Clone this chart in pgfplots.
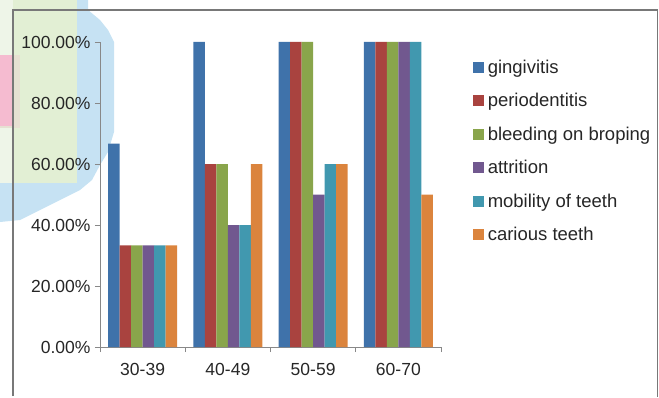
\documentclass[border=0pt]{standalone}
\usepackage{pgfplots}
\pgfplotsset{compat=1.18}
\usepackage{fontspec}
\setmainfont{Liberation Sans}
\definecolor{cA}{HTML}{3F72AA}
\definecolor{cB}{HTML}{A9433F}
\definecolor{cC}{HTML}{89A54B}
\definecolor{cD}{HTML}{71588F}
\definecolor{cE}{HTML}{4198AF}
\definecolor{cF}{HTML}{DB843D}
\definecolor{txt}{HTML}{262626}
\definecolor{axg}{HTML}{888888}
\begin{document}
\begin{tikzpicture}
\useasboundingbox (0pt,0pt) rectangle (659pt,397pt);
% decorative blurred background artifacts (image coords flipped)
\fill[fill={rgb,255:red,198;green,226;blue,243}] (0pt,397pt) -- (88pt,397pt) -- (88pt,387pt) -- (100pt,377pt) -- (108pt,367pt) -- (114pt,355pt) -- (114pt,265pt) -- (108pt,245pt) -- (100pt,232pt) -- (92pt,217pt) -- (80pt,207pt) -- (60pt,197pt) -- (40pt,187pt) -- (20pt,177pt) -- (0pt,175pt) -- cycle;
\fill[fill={rgb,255:red,226;green,239;blue,212}] (0pt,397pt) rectangle (77pt,214pt);
\fill[fill={rgb,255:red,238;green,245;blue,232}] (0pt,397pt) rectangle (13pt,214pt);
\fill[fill={rgb,255:red,230;green,224;blue,210}] (0pt,342pt) rectangle (20pt,269pt);
\fill[fill={rgb,255:red,245;green,187;blue,208}] (0pt,342pt) rectangle (13pt,271pt);
% outer frame
\draw[color={rgb,255:red,120;green,120;blue,120}, line width=1.3pt] (13pt,1pt) -- (13pt,387pt) -- (657.5pt,387pt) -- (657.5pt,0pt);
\begin{axis}[
  at={(100pt,50pt)}, anchor=south west,
  scale only axis, width=341pt, height=305pt,
  xmin=-0.5, xmax=3.5, ymin=0, ymax=100,
  ybar=0pt, bar width=11.5pt,
  axis x line*=bottom, axis y line*=left,
  x axis line style={-}, y axis line style={-},
  axis line style={draw=axg, line width=0.8pt},
  xtick={-0.5,0.5,1.5,2.5,3.5},
  x tick label as interval,
  xticklabels={30-39,40-49,50-59,60-70},
  ytick={0,20,40,60,80,100},
  yticklabel={\pgfmathprintnumber[fixed,fixed zerofill,precision=2]{\tick}\%},
  /pgf/number format/assume math mode=true,
  tick align=outside, major tick length=5pt,
  tick style={draw=axg, line width=0.8pt},
  ticklabel style={font=\fontsize{17.5}{20}\selectfont, text=txt},
  xticklabel style={yshift=-8pt},
  yticklabel style={xshift=-1pt},
  legend style={at={(1.094,0.946)}, anchor=north west, draw=none, fill=none,
    font=\fontsize{18.5}{22}\selectfont, text=txt, row sep=16.6pt, inner sep=0pt,
    nodes={inner sep=1pt},
    /tikz/every odd column/.append style={column sep=2.5pt}},
  legend cell align=left,
  legend image code/.code={\fill[#1] (0pt,-5.5pt) rectangle (11pt,5.5pt);},
  clip=false,
]
\addplot[fill=cA, draw=none] coordinates {(0,66.67) (1,100) (2,100) (3,100)};
\addplot[fill=cB, draw=none] coordinates {(0,33.33) (1,60) (2,100) (3,100)};
\addplot[fill=cC, draw=none] coordinates {(0,33.33) (1,60) (2,100) (3,100)};
\addplot[fill=cD, draw=none] coordinates {(0,33.33) (1,40) (2,50) (3,100)};
\addplot[fill=cE, draw=none] coordinates {(0,33.33) (1,40) (2,60) (3,100)};
\addplot[fill=cF, draw=none] coordinates {(0,33.33) (1,60) (2,60) (3,50)};
\legend{gingivitis, periodentitis, bleeding on broping, attrition, mobility of teeth, carious teeth}
\end{axis}
\end{tikzpicture}
\end{document}
